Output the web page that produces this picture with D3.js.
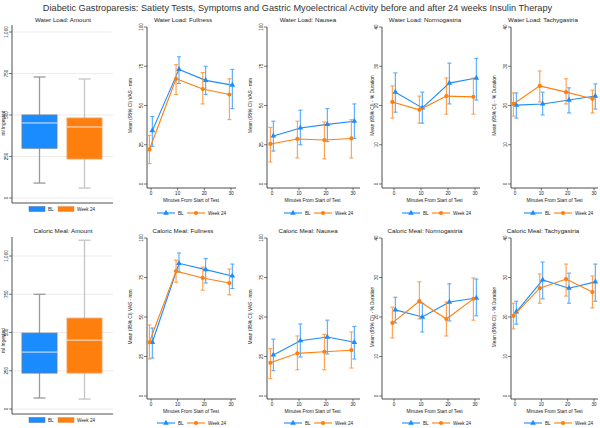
<!DOCTYPE html>
<html><head><meta charset="utf-8">
<script src="https://cdn.jsdelivr.net/npm/d3@7"></script>
<style>body{margin:0;background:#fff}svg{display:block;font-family:"Liberation Sans",Arial,sans-serif}</style>
</head><body><svg id="c" width="600" height="428"></svg>
<script>
// ---------------- DATA ----------------
const mainTitle = "Diabetic Gastroparesis: Satiety Tests, Symptoms and Gastric Myoelectrical Activity before and after 24 weeks Insulin Therapy";
const groups = ["BL", "Week 24"];
const minutes = [0, 10, 20, 30];
const rowNames = ["Water Load", "Caloric Meal"];
const measureNames = ["Fullness", "Nausea", "Normogastria", "Tachygastria"];
const vasTicks = [0, 25, 50, 75, 100];
const eggTicks = [0, 10, 20, 30, 40];
const amountTicks = [0, 250, 500, 750, 1000];

// box stats: [min, q1, median, q3, max]
const waterAmountBL = [90, 300, 452, 500, 729];
const waterAmountW24 = [60, 235, 428, 482, 717];
const caloricAmountBL = [72, 235, 372, 496, 750];
const caloricAmountW24 = [65, 235, 450, 594, 1103];

// line data per minute: [mean, lower CI, upper CI]
const waterFullnessBL = [[34,24,43],[73,64,81],[66,57,75],[63,48,73]];
const waterFullnessW24 = [[22,13,31],[67,57,76],[60.5,51,71],[57,41,67]];
const waterNauseaBL = [[30.6,21,40],[35.7,25,47],[38,27,48],[40,29,51]];
const waterNauseaW24 = [[25.5,14,36],[28.7,16.6,40],[28,16,39.5],[29,16.6,41]];
const waterNormoBL = [[23.4,18.3,28.3],[19.4,15.5,23.4],[25.7,20.4,30.8],[27,21.4,32]];
const waterNormoW24 = [[20.9,16.8,25],[18.9,15.5,22.4],[22.4,17.8,27],[22.2,17.8,27]];
const waterTachyBL = [[20.1,16.8,23.2],[20.4,17.6,23.4],[21.4,18.1,24.5],[22.4,19.1,25.5]];
const waterTachyW24 = [[20.4,17.3,23.2],[25,20.9,28.8],[23.4,20.4,26.8],[21.7,18.1,23.9]];
const caloricFullnessBL = [[34,24,43],[84,78.5,90.5],[80,71.5,87],[76,68,83.5]];
const caloricFullnessW24 = [[34,23.4,45],[79,72,86],[74.7,67,81.6],[71.5,64,80.4]];
const caloricNauseaBL = [[26,16,36],[35,24.7,45.6],[37.3,26.6,48],[34,23.4,44]];
const caloricNauseaW24 = [[21,11,30],[27,16.6,38],[28,16.6,39],[29,17.7,40.5]];
const caloricNormoBL = [[21.8,18.5,25],[20,16.2,23.5],[23.8,19,28.4],[24.8,20.3,29.6]];
const caloricNormoW24 = [[18.5,14.7,22.5],[24,19.5,28.9],[19.5,15.2,23.8],[24.6,19.2,29.9]];
const caloricTachyBL = [[21.3,18.2,24],[29.4,24.6,33.9],[27.3,23.5,31.1],[28.9,24,33.4]];
const caloricTachyW24 = [[20.3,17,23.5],[27.3,23.5,30.9],[29.6,25.3,33.4],[26.3,22.3,30.4]];

// ---------------- LAYOUT ----------------
const svg = d3.select("#c");
const BLUE = "#1a8cff", ORANGE = "#ff7f0e";
const colors = {"BL": BLUE, "Week 24": ORANGE};
const offsets = {"BL": 0.5, "Week 24": -0.6};

svg.append("text").attr("x", 297.5).attr("y", 11).attr("text-anchor", "middle")
  .attr("font-size", 9.2).attr("fill", "#333").text(mainTitle);

const boxRows = [
  {y0: 198, y1: 32, axisTop: 25, xAxisY: 203, legendY: 209, titleY: 22},
  {y0: 409, y1: 256, axisTop: 237, xAxisY: 414, legendY: 420, titleY: 233}
];
const lineRows = [
  {y0: 184, y1: 27, xAxisY: 188, titleY: 22, tickLabY: 195, xTitleY: 202, legendY: 213},
  {y0: 396, y1: 238, xAxisY: 399, titleY: 233, tickLabY: 406, xTitleY: 413, legendY: 423}
];
const lineCols = [
  {axisX: 147, x0: 151, x30: 231, xEnd: 236, titleX: 183, center: 183, yTitleX: 132},
  {axisX: 267, x0: 272, x30: 353, xEnd: 360, titleX: 308, center: 310, yTitleX: 252},
  {axisX: 382, x0: 394, x30: 475, xEnd: 480, titleX: 425, center: 428, yTitleX: 374},
  {axisX: 511, x0: 515, x30: 594, xEnd: 598, titleX: 543, center: 550, yTitleX: 496}
];
const boxData = [[waterAmountBL, waterAmountW24], [caloricAmountBL, caloricAmountW24]];
const lineData = [
  [[waterFullnessBL, waterFullnessW24], [waterNauseaBL, waterNauseaW24], [waterNormoBL, waterNormoW24], [waterTachyBL, waterTachyW24]],
  [[caloricFullnessBL, caloricFullnessW24], [caloricNauseaBL, caloricNauseaW24], [caloricNormoBL, caloricNormoW24], [caloricTachyBL, caloricTachyW24]]
];

function panelTitle(x, y, t) {
  svg.append("text").attr("x", x).attr("y", y).attr("text-anchor", "middle")
    .attr("font-size", 6.2).attr("fill", "#222").text(t);
}

function yAxisRot(g, scale, ticks, axisX, fmt) {
  const ax = g.append("g").attr("transform", `translate(${axisX},0)`);
  ticks.forEach(t => {
    const y = scale(t);
    ax.append("line").attr("x1", -3).attr("x2", 0).attr("y1", y).attr("y2", y).attr("stroke", "#222").attr("stroke-width", 0.6);
    ax.append("text").attr("transform", `translate(-4.5,${y}) rotate(-90)`).attr("text-anchor", "middle")
      .attr("font-size", 4.6).attr("fill", "#222").text(fmt(t));
  });
}

// ---------------- BOX PANELS ----------------
boxRows.forEach((r, ri) => {
  const g = svg.append("g");
  const y = d3.scaleLinear().domain([0, 1000]).range([r.y0, r.y1]);
  const x = d3.scalePoint().domain(groups).range([17, 107]).padding(0.5);
  panelTitle(63, r.titleY, rowNames[ri] + ": Amount");
  amountTicks.forEach(t => {
    g.append("line").attr("x1", 13).attr("x2", 113).attr("y1", y(t)).attr("y2", y(t))
      .attr("stroke", "#e6e6e6").attr("stroke-width", 0.8);
  });
  g.append("line").attr("x1", 12).attr("x2", 12).attr("y1", r.axisTop).attr("y2", r.xAxisY).attr("stroke", "#222").attr("stroke-width", 0.8);
  g.append("line").attr("x1", 12).attr("x2", 113).attr("y1", r.xAxisY).attr("y2", r.xAxisY).attr("stroke", "#222").attr("stroke-width", 0.8);
  yAxisRot(g, y, amountTicks, 12, d3.format(","));
  g.append("text").attr("transform", `translate(4.5,${(r.y0 + r.y1) / 2 + 8}) rotate(-90)`).attr("text-anchor", "middle")
    .attr("font-size", 4.8).attr("fill", "#222").text("ml Ingested");
  const bw = 35;
  groups.forEach((gr, gi) => {
    const s = boxData[ri][gi];
    const cx = x(gr);
    const wc = gi === 0 ? "#9a9a9a" : "#c4c4c4";
    g.append("line").attr("x1", cx).attr("x2", cx).attr("y1", y(s[0])).attr("y2", y(s[4])).attr("stroke", wc).attr("stroke-width", 1.3);
    [s[0], s[4]].forEach(v => g.append("line").attr("x1", cx - 6).attr("x2", cx + 6).attr("y1", y(v)).attr("y2", y(v)).attr("stroke", wc).attr("stroke-width", 1.3));
    g.append("rect").attr("x", cx - bw / 2).attr("y", y(s[3])).attr("width", bw).attr("height", y(s[1]) - y(s[3]))
      .attr("fill", colors[gr]).attr("stroke", gi === 0 ? "#5a7ea8" : "#f0a060").attr("stroke-width", 0.9);
    g.append("line").attr("x1", cx - bw / 2).attr("x2", cx + bw / 2).attr("y1", y(s[2])).attr("y2", y(s[2])).attr("stroke", "#f4f4f4").attr("stroke-width", 0.9);
  });
  [[29, "BL"], [58, "Week 24"]].forEach(([lx, lab]) => {
    g.append("rect").attr("x", lx).attr("y", r.legendY - 2.5).attr("width", 16).attr("height", 5)
      .attr("fill", colors[lab]).attr("stroke", lab === "BL" ? "#4a6e98" : "#e09050").attr("stroke-width", 0.5);
    g.append("text").attr("x", lx + 19).attr("y", r.legendY + 1.7).attr("font-size", 4.6).attr("fill", "#222").text(lab);
  });
});

// ---------------- LINE PANELS ----------------
const tri = d3.symbol().type(d3.symbolTriangle).size(14);
lineRows.forEach((r, ri) => {
  lineCols.forEach((c, ci) => {
    const g = svg.append("g");
    const isVas = ci < 2;
    const ticks = isVas ? vasTicks : eggTicks;
    const y = d3.scaleLinear().domain([ticks[0], ticks[ticks.length - 1]]).range([r.y0, r.y1]);
    const x = d3.scaleLinear().domain([0, 30]).range([c.x0, c.x30]);
    panelTitle(c.titleX, r.titleY, rowNames[ri] + ": " + measureNames[ci]);
    g.append("line").attr("x1", c.axisX).attr("x2", c.axisX).attr("y1", r.y1).attr("y2", r.xAxisY).attr("stroke", "#222").attr("stroke-width", 0.8);
    g.append("line").attr("x1", c.axisX).attr("x2", c.xEnd).attr("y1", r.xAxisY).attr("y2", r.xAxisY).attr("stroke", "#222").attr("stroke-width", 0.8);
    yAxisRot(g, y, ticks, c.axisX, d => d);
    minutes.forEach(m => {
      g.append("line").attr("x1", x(m)).attr("x2", x(m)).attr("y1", r.xAxisY).attr("y2", r.xAxisY + 2.5).attr("stroke", "#222").attr("stroke-width", 0.6);
      g.append("text").attr("x", x(m)).attr("y", r.tickLabY).attr("text-anchor", "middle").attr("font-size", 4.6).attr("fill", "#222").text(m);
    });
    g.append("text").attr("x", (c.x0 + c.x30) / 2).attr("y", r.xTitleY).attr("text-anchor", "middle").attr("font-size", 4.8).attr("fill", "#222").text("Minutes From Start of Test");
    g.append("text").attr("transform", `translate(${c.yTitleX},${(r.y0 + r.y1) / 2}) rotate(-90)`).attr("text-anchor", "middle")
      .attr("font-size", 4.8).attr("fill", "#222").text(isVas ? "Mean (95% CI) VAS - mm" : "Mean (95% CI) - % Duration");
    groups.forEach((gr, gi) => {
      const d = lineData[ri][ci][gi];
      const col = colors[gr];
      const xs = minutes.map(m => x(m + offsets[gr]));
      d.forEach((v, i) => {
        const eg = g.append("g").attr("stroke", col).attr("stroke-width", 1.1).attr("opacity", 0.75);
        eg.append("line").attr("x1", xs[i]).attr("x2", xs[i]).attr("y1", y(v[1])).attr("y2", y(v[2]));
        eg.append("line").attr("x1", xs[i] - 2).attr("x2", xs[i] + 2).attr("y1", y(v[1])).attr("y2", y(v[1]));
        eg.append("line").attr("x1", xs[i] - 2).attr("x2", xs[i] + 2).attr("y1", y(v[2])).attr("y2", y(v[2]));
      });
      const line = d3.line().x((v, i) => xs[i]).y(v => y(v[0]));
      g.append("path").attr("d", line(d)).attr("fill", "none").attr("stroke", col).attr("stroke-width", 1.1);
      d.forEach((v, i) => {
        if (gi === 0) g.append("path").attr("d", tri).attr("transform", `translate(${xs[i]},${y(v[0])})`).attr("fill", col);
        else g.append("circle").attr("cx", xs[i]).attr("cy", y(v[0])).attr("r", 2.1).attr("fill", col);
      });
    });
    const lx = c.center - 26;
    [[lx, "BL"], [lx + 30, "Week 24"]].forEach(([px, lab], li) => {
      g.append("line").attr("x1", px).attr("x2", px + 18).attr("y1", r.legendY).attr("y2", r.legendY).attr("stroke", colors[lab]).attr("stroke-width", 1.1);
      if (li === 0) g.append("path").attr("d", tri).attr("transform", `translate(${px + 9},${r.legendY})`).attr("fill", colors[lab]);
      else g.append("circle").attr("cx", px + 9).attr("cy", r.legendY).attr("r", 2.1).attr("fill", colors[lab]);
      g.append("text").attr("x", px + 21).attr("y", r.legendY + 1.7).attr("font-size", 4.6).attr("fill", "#222").text(lab);
    });
  });
});
</script></body></html>
